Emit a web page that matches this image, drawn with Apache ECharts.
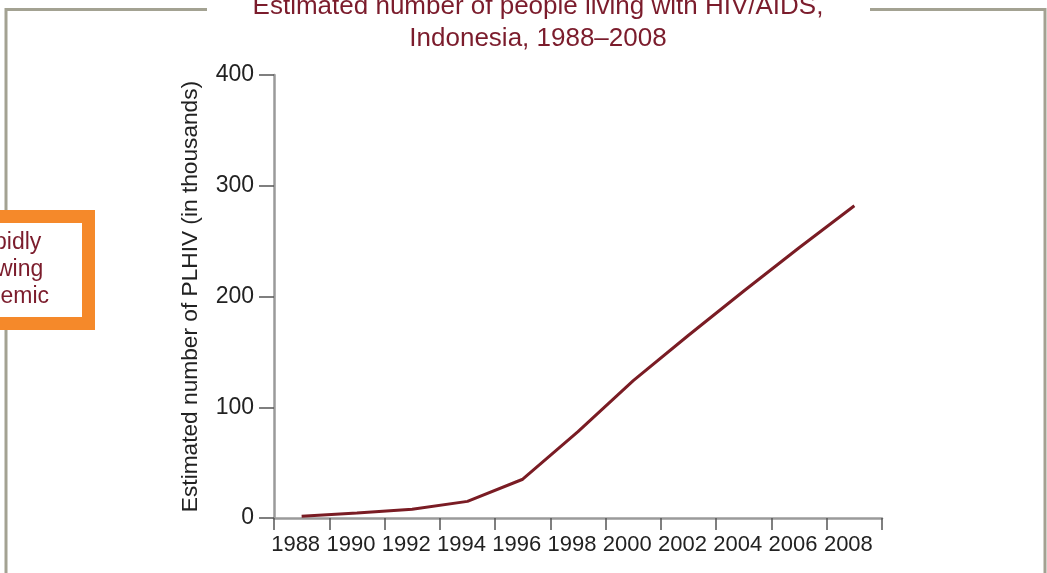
<!DOCTYPE html>
<html>
<head>
<meta charset="utf-8">
<script src="https://cdn.jsdelivr.net/npm/echarts@6/dist/echarts.min.js"></script>
<style>
  html, body { margin: 0; padding: 0; background: #fff; }
  #chart { width: 1047px; height: 573px; }
</style>
</head>
<body>
<div id="chart"></div>
<script>
// data (thousands of people)
var years = ['1988', '1990', '1992', '1994', '1996', '1998', '2000', '2002', '2004', '2006', '2008'];
var plhiv = [1.5, 4.5, 8, 15, 35, 78, 124, 165, 205, 244, 282];
var yTicks = [0, 100, 200, 300, 400];

var titleText = 'Estimated number of people living with HIV/AIDS,\nIndonesia, 1988\u20132008';
var calloutText = 'Rapidly\ngrowing\nepidemic';

var darkRed = '#7b1c2c';
var frameColor = '#a3a292';
var font = 'Liberation Sans, Arial, sans-serif';

var myChart = echarts.init(document.getElementById('chart'));

var option = {
    animation: false,
    backgroundColor: '#fff',
    title: {
        text: titleText,
        left: 533,
        textAlign: 'center',
        top: -14,
        textStyle: {
            fontFamily: font,
            fontWeight: 'normal',
            fontSize: 26,
            lineHeight: 32,
            color: darkRed,
            align: 'center'
        }
    },
    grid: {
        left: 274,
        right: 165,
        top: 75,
        bottom: 55
    },
    xAxis: {
        type: 'category',
        data: years,
        boundaryGap: true,
        axisLine: { lineStyle: { color: '#9a9a9a', width: 2.5 } },
        axisTick: { show: true, length: 12, lineStyle: { color: '#555', width: 1.5 } },
        axisLabel: {
            interval: 0,
            margin: 16,
            fontFamily: font,
            fontSize: 22,
            color: '#222',
            padding: [0, 12, 0, 0]
        }
    },
    yAxis: {
        type: 'value',
        min: yTicks[0],
        max: yTicks[yTicks.length - 1],
        interval: 100,
        name: 'Estimated number of PLHIV (in thousands)',
        nameLocation: 'middle',
        nameGap: 72,
        nameTextStyle: {
            fontFamily: font,
            fontSize: 22.7,
            color: '#222'
        },
        splitLine: { show: false },
        axisLine: { show: true, lineStyle: { color: '#9a9a9a', width: 2.5 } },
        axisTick: { show: true, length: 15, lineStyle: { color: '#555', width: 1.5 } },
        axisLabel: {
            margin: 20,
            fontFamily: font,
            fontSize: 23,
            color: '#222'
        }
    },
    series: [
        {
            type: 'line',
            data: plhiv,
            showSymbol: false,
            symbol: 'none',
            lineStyle: { color: '#7a1c24', width: 3 },
            z: 5
        }
    ],
    graphic: [
        // frame around the figure, broken by the title
        {
            type: 'polyline',
            shape: { points: [[6, 580], [6, 9.5], [207, 9.5]] },
            style: { stroke: frameColor, lineWidth: 3, fill: null }
        },
        {
            type: 'polyline',
            shape: { points: [[870, 9.5], [1045, 9.5], [1045, 580]] },
            style: { stroke: frameColor, lineWidth: 3, fill: null }
        },
        // orange callout box clipped at the left edge
        {
            type: 'rect',
            shape: { x: -100, y: 216.5, width: 188.5, height: 107 },
            style: { fill: '#fff', stroke: '#f5892a', lineWidth: 13 },
            z: 10
        },
        {
            type: 'text',
            x: 3,
            y: 270,
            style: {
                text: calloutText,
                fontFamily: font,
                fontSize: 23,
                lineHeight: 27,
                fill: darkRed,
                align: 'center',
                verticalAlign: 'middle'
            },
            z: 11
        }
    ]
};

myChart.setOption(option);
</script>
</body>
</html>
